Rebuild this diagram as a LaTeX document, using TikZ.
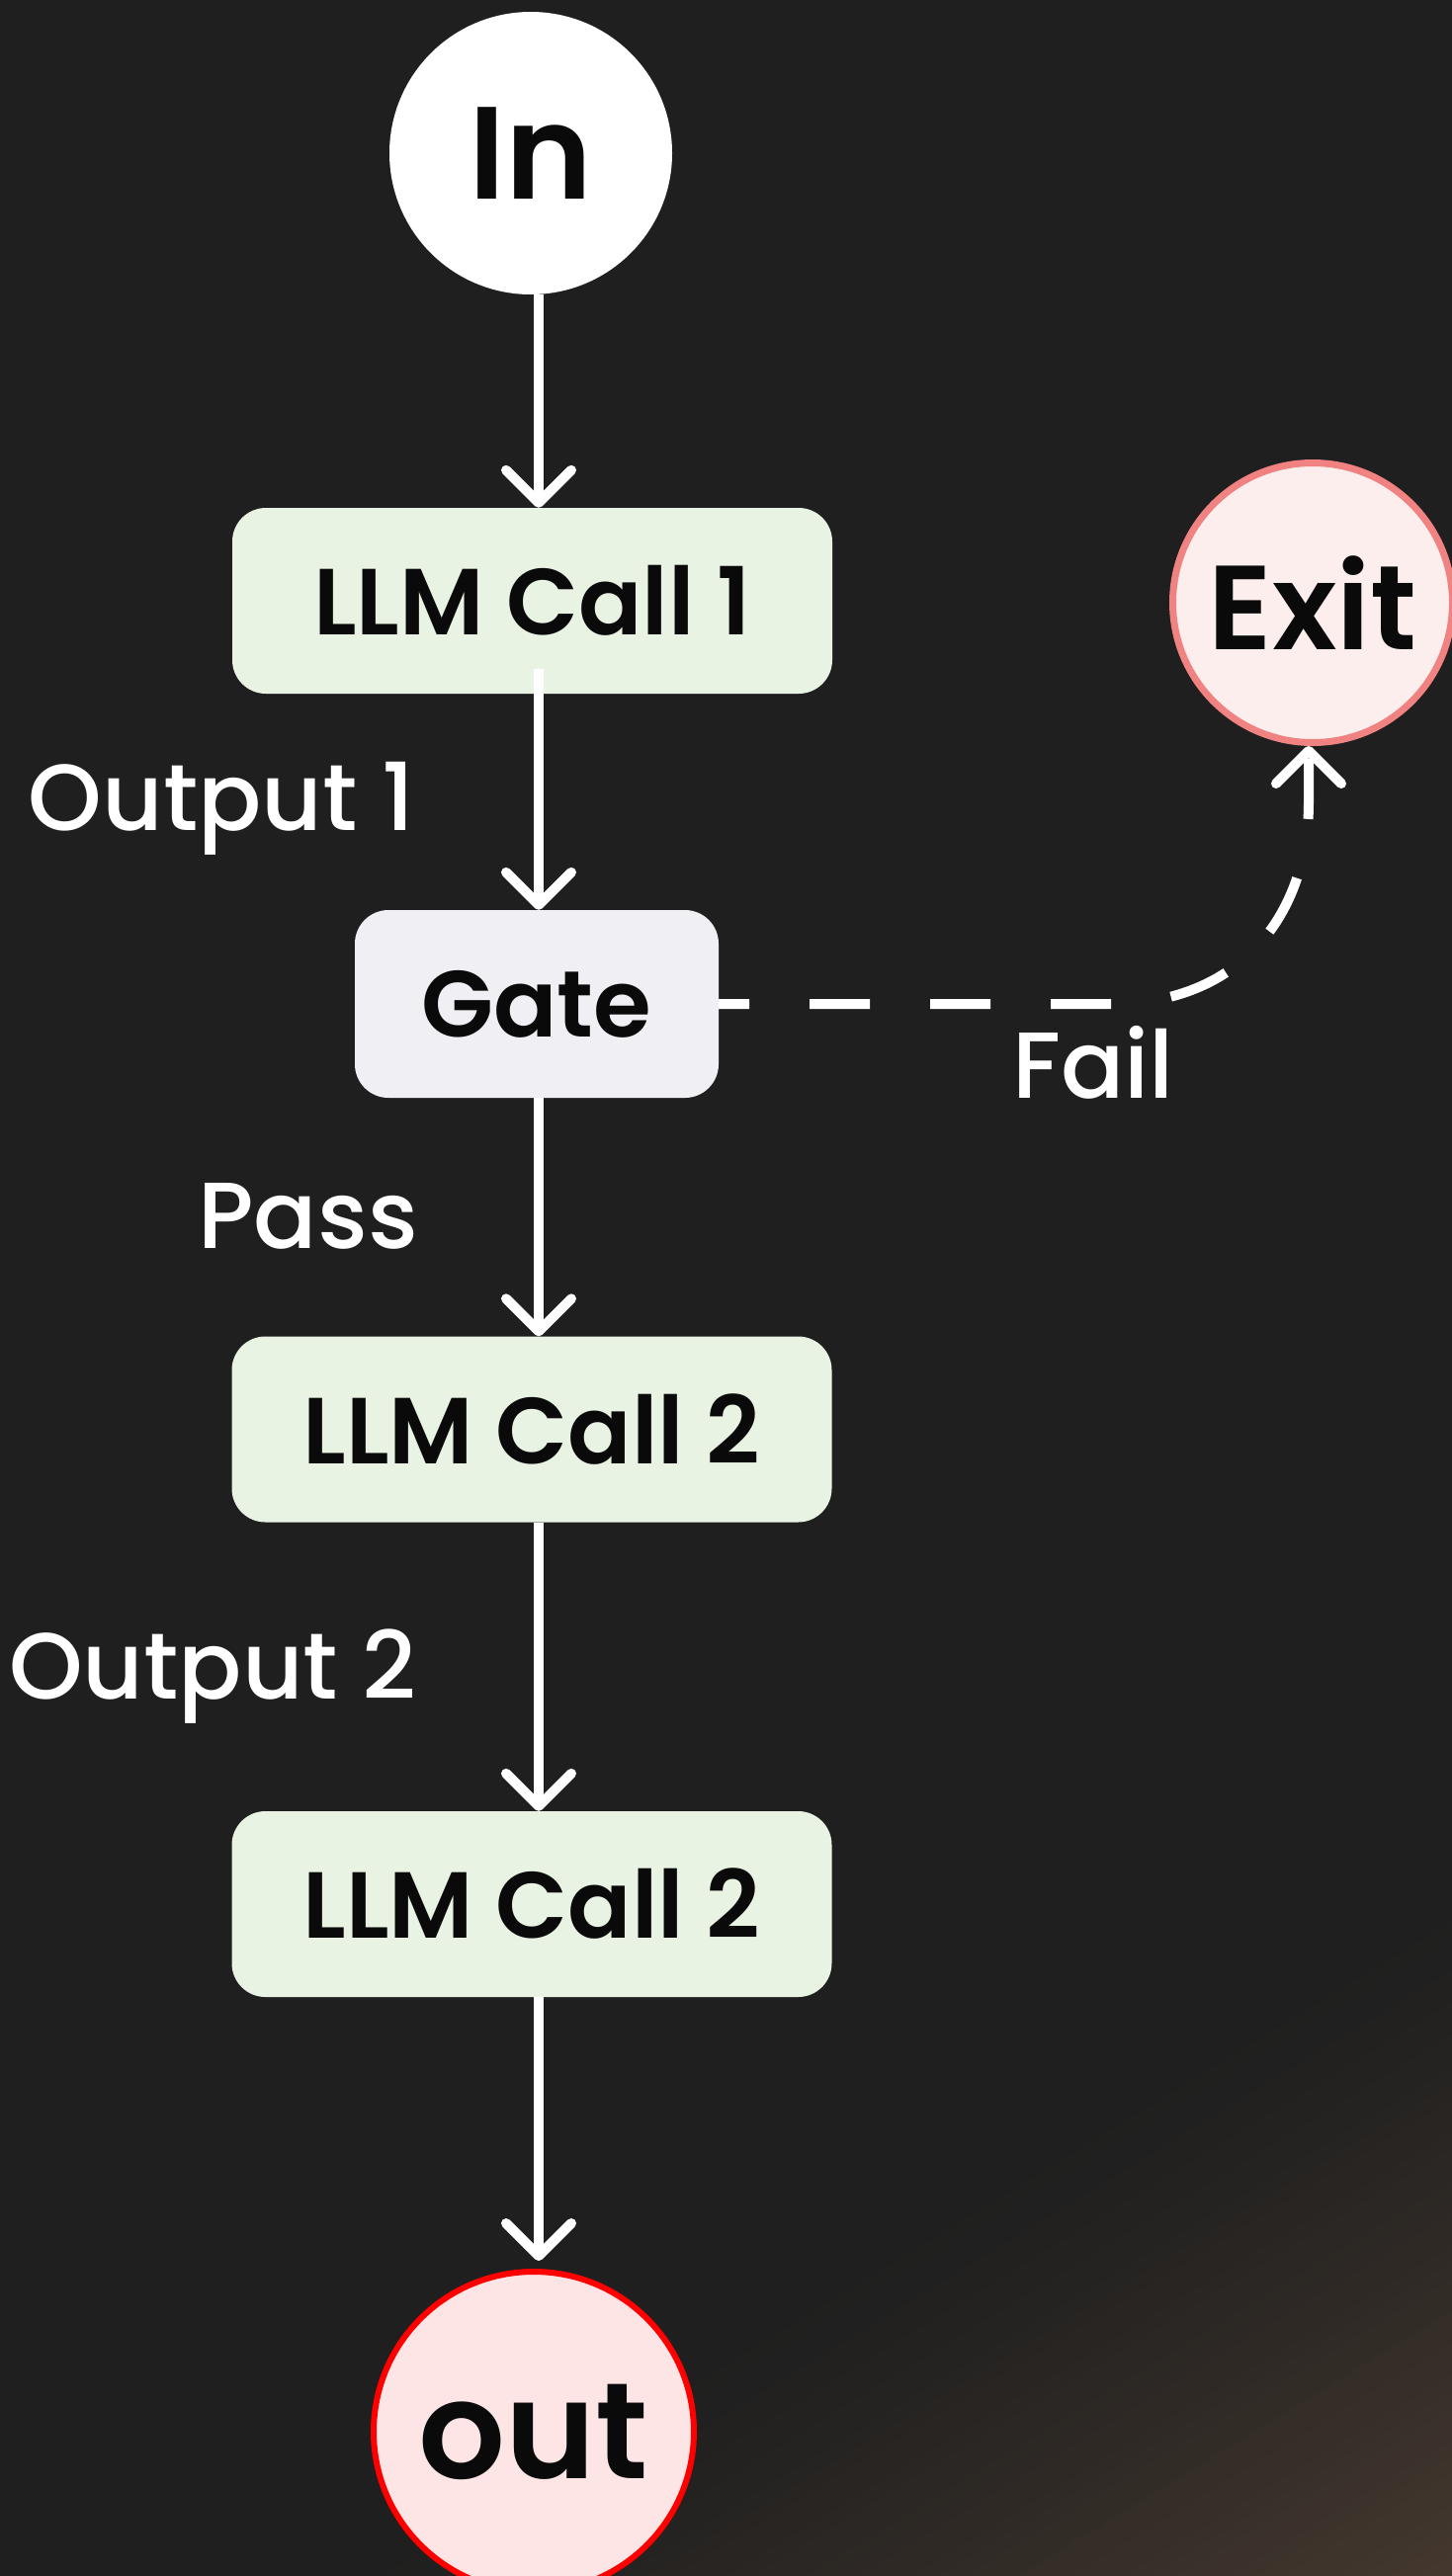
\documentclass[tikz,border=0pt]{standalone}
\usepackage{fontspec}
\setmainfont{Poppins}
\IfFontExistsTF{Poppins SemiBold}{\newfontfamily\nodefont{Poppins SemiBold}}{\newcommand\nodefont{\bfseries}}
\IfFontExistsTF{Poppins Medium}{\newfontfamily\labelfont{Poppins Medium}}{\newcommand\labelfont{\mdseries}}
\usetikzlibrary{arrows.meta,calc}
\definecolor{bgdark}{HTML}{1F1F1F}
\definecolor{bgbrown}{HTML}{46392F}
\definecolor{llmfill}{HTML}{E8F3E4}
\definecolor{gatefill}{HTML}{EFEFF4}
\definecolor{exitfill}{HTML}{FDEEEE}
\definecolor{exitborder}{HTML}{F08282}
\definecolor{outfill}{HTML}{FDE5E5}
\definecolor{outborder}{HTML}{FF0000}
\definecolor{txt}{HTML}{0A0A0A}
\begin{document}
\begin{tikzpicture}[x=1pt,y=-1pt,
  box/.style={rectangle, rounded corners=34pt, fill=llmfill, minimum width=607pt,
    minimum height=188pt, inner sep=0pt, text=txt,
    font=\fontsize{95}{100}\nodefont\selectfont},
  gatebox/.style={box, fill=gatefill, minimum width=368pt, minimum height=190pt},
  term/.style={circle, inner sep=0pt, text=txt},
  arr/.style={draw=white, line width=10pt,
    -{Straight Barb[length=33pt,width=66pt,round]}},
  lbl/.style={text=white, inner sep=0pt, anchor=base east,
    font=\fontsize{95}{100}\labelfont\selectfont},
]
\useasboundingbox (0,0) rectangle (1469,2607);
% background with brownish gradient in the lower right corner
\fill[bgdark] (0,0) rectangle (1469,2607);
\begin{scope}
\clip (0,0) rectangle (1469,2607);
\foreach \i in {0,...,43} {
  \pgfmathsetmacro{\da}{\i*14}
  \pgfmathsetmacro{\db}{(\i+1)*14+1}
  \pgfmathtruncatemacro{\p}{100*((\i+0.5)/44)^1.25}
  \fill[bgbrown!\p!bgdark]
    ({332+\da*0.522-2000*0.853},{2607+\da*0.853+2000*0.522}) --
    ({332+\da*0.522+2000*0.853},{2607+\da*0.853-2000*0.522}) --
    ({332+\db*0.522+2000*0.853},{2607+\db*0.853-2000*0.522}) --
    ({332+\db*0.522-2000*0.853},{2607+\db*0.853+2000*0.522}) -- cycle;
}
\end{scope}

% nodes
\node[term, fill=white, minimum size=286pt,
  font=\fontsize{133}{140}\nodefont\selectfont] (in) at (537,155) {In};
\node[box] (llm1) at (538.5,608) {LLM Call 1};
\node[gatebox] (gate) at (543,1016) {Gate};
\node[box] (llm2) at (538,1446.5) {LLM Call 2};
\node[box] (llm3) at (538,1927) {LLM Call 2};
\node[term, fill=exitfill, draw=exitborder, line width=7pt, minimum size=283pt,
  font=\fontsize{121}{125}\nodefont\selectfont] (exit) at (1328,610) {Exit};
\node[term, fill=outfill, draw=outborder, line width=6pt, minimum size=324pt,
  font=\fontsize{138}{140}\nodefont\selectfont] (out) at (540,2461) {out};

% edge labels
\node[lbl] (o1) at (420,840) {Output 1};
\node[lbl] (pass) at (423,1263) {Pass};
\node[lbl] (o2) at (422,1719) {Output 2};
\node[lbl, anchor=base] (fail) at (1106,1111) {Fail};

% connectors
\coordinate (lx) at (545,0);
\coordinate (fx) at (1324,0);
\draw[arr] (in.south -| lx) -- (llm1.north -| lx);
\draw[arr] ($(llm1.south -| lx)+(0,-25)$) -- (gate.north -| lx);
\draw[arr] (gate.south -| lx) -- (llm2.north -| lx);
\draw[arr] (llm2.south -| lx) -- (llm3.north -| lx);
\draw[arr, shorten >=8pt] (llm3.south -| lx) -- (out.north -| lx);
\draw[arr, dash pattern=on 61pt off 61pt, dash phase=30pt]
  (gate.east) -- (1124,1016) .. controls (1255,1016) and (1324,925) .. (1324,812)
  -- (exit.south -| fx);
\end{tikzpicture}
\end{document}
